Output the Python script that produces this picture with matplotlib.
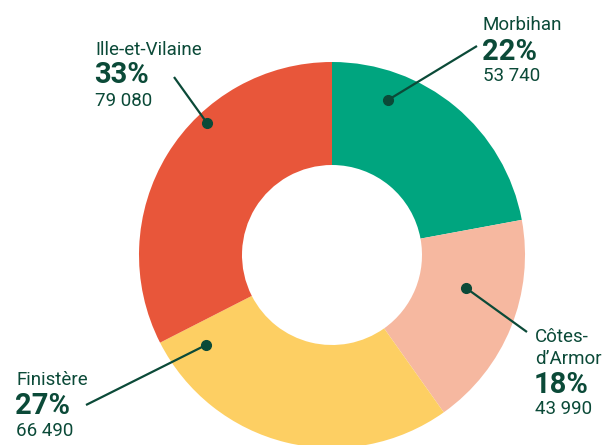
import matplotlib
matplotlib.use("Agg")
import matplotlib.pyplot as plt

# Data
regions = ["Morbihan", "Côtes-\nd’Armor", "Finistère", "Ille-et-Vilaine"]
values = [53740, 43990, 66490, 79080]
pct_labels = ["22%", "18%", "27%", "33%"]
value_labels = ["53 740", "43 990", "66 490", "79 080"]
colors = ["#00a57f", "#f6b8a0", "#fdcf63", "#e8563a"]

TXT = "#0b4a38"
H = 445

fig = plt.figure(figsize=(6.05, 4.45), dpi=100)
ax = fig.add_axes([0, 0, 1, 1])

cx, cy = 332, H - 255
R, r_in = 193, 90
ax.pie(values, startangle=90, counterclock=False, colors=colors,
       radius=R, center=(cx, cy),
       wedgeprops=dict(width=R - r_in, linewidth=0))
ax.set_xlim(0, 605)
ax.set_ylim(0, H)
ax.set_aspect("equal")
ax.axis("off")

font = "Roboto"

# label layout (pixel coords, y from top): text x, baselines, dot, line end
layout = [
    dict(x=483, name_y=[30], pct_y=60, val_y=81, dot=(388, 100), end=(477, 46)),
    dict(x=535, name_y=[342, 364], pct_y=393, val_y=414, dot=(466, 288), end=(527, 332)),
    dict(x=16, name_y=[385], pct_y=414, val_y=436, dot=(206, 345), end=(86, 405)),
    dict(x=95, name_y=[55], pct_y=83, val_y=106, dot=(207, 123), end=(174, 77)),
]

for name, pct, val, L in zip(regions, pct_labels, value_labels, layout):
    lines = name.split("\n")
    for ln, yb in zip(lines, L["name_y"]):
        ax.text(L["x"], H - yb, ln, fontsize=13.5, family=font, color=TXT,
                ha="left", va="baseline")
    ax.text(L["x"] - 1, H - L["pct_y"], pct, fontsize=21, fontweight="bold",
            family=font, color=TXT, ha="left", va="baseline")
    ax.text(L["x"], H - L["val_y"], val, fontsize=13.5, family=font, color=TXT,
            ha="left", va="baseline")
    dx, dy = L["dot"]
    ex, ey = L["end"]
    ax.plot([dx, ex], [H - dy, H - ey], color=TXT, lw=1.6, solid_capstyle="butt")
    ax.plot([dx], [H - dy], "o", color=TXT, ms=7)

fig.savefig("out.png", dpi=100)
